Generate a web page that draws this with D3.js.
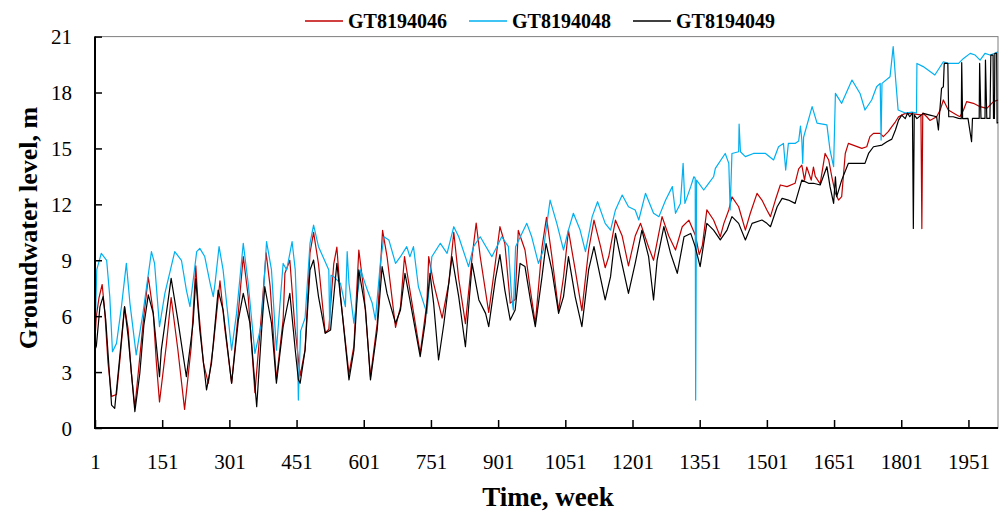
<!DOCTYPE html>
<html>
<head>
<meta charset="utf-8">
<script src="https://cdn.jsdelivr.net/npm/d3@7"></script>
<style>
  body { margin: 0; background: #fff; }
  svg { display: block; }
  text { font-family: "Liberation Serif", "Times New Roman", serif; fill: #000; }
</style>
</head>
<body>
<svg id="chart" width="1000" height="512"></svg>
<script>
// Weekly groundwater levels (m) at three wells, as [week, level] pairs
const seriesNames = ["GT8194046", "GT8194048", "GT8194049"];
const seriesColors = ["#C00000", "#00B0F0", "#000000"];
const xTickWeeks = [1, 151, 301, 451, 601, 751, 901, 1051, 1201, 1351, 1501, 1651, 1801, 1951];
const yTickLevels = [0, 3, 6, 9, 12, 15, 18, 21];
const lastWeek = 2017;

const gt8194046 = [[1,4.8],[4,6.0],[10,7.0],[17,7.7],[23,6.2],[30,3.5],[38,1.7],[49,1.8],[58,4.0],[67,6.5],[75,5.3],[82,3.0],[90,1.1],[101,3.8],[110,6.0],[120,8.1],[131,6.2],[138,3.5],[145,1.4],[160,4.4],[171,7.0],[186,4.2],[201,1.0],[216,4.4],[226,8.7],[231,6.7],[243,3.5],[254,2.4],[265,4.4],[280,7.9],[291,5.3],[306,2.4],[321,6.2],[332,9.2],[343,7.05],[358,1.9],[373,6.2],[383,9.4],[392,7.6],[406,2.6],[421,5.8],[425,8.3],[436,9.0],[447,5.5],[459,2.8],[470,4.2],[481,9.4],[489,10.5],[500,8.8],[515,5.1],[523,5.3],[534,8.8],[541,9.7],[549,7.05],[568,2.9],[579,4.4],[590,9.55],[601,7.4],[616,2.75],[631,5.6],[643,10.6],[653,9.2],[672,5.4],[683,6.5],[692,9.2],[704,7.4],[727,4.0],[742,6.7],[746,9.2],[757,7.76],[776,5.9],[791,7.8],[802,10.5],[813,8.0],[828,5.6],[843,9.2],[852,11.0],[861,9.2],[880,6.2],[895,8.9],[905,10.8],[916,9.9],[928,6.7],[939,6.9],[946,10.6],[961,9.55],[973,7.4],[984,5.6],[999,9.7],[1009,11.3],[1021,9.2],[1036,6.3],[1047,8.1],[1058,10.6],[1073,8.5],[1088,6.3],[1103,9.55],[1115,11.15],[1130,9.7],[1140,8.6],[1148,9.2],[1163,11.15],[1178,10.3],[1192,8.7],[1207,10.3],[1219,10.98],[1237,9.7],[1248,9.0],[1267,11.34],[1282,10.3],[1297,9.55],[1312,10.8],[1327,11.15],[1342,10.3],[1350,9.3],[1357,9.8],[1367,11.7],[1382,11.16],[1397,10.26],[1405,10.98],[1416,11.7],[1423,12.4],[1438,11.87],[1453,10.62],[1464,11.52],[1479,12.59],[1490,12.23],[1501,11.7],[1509,11.34],[1520,12.23],[1531,13.04],[1546,12.95],[1564,13.13],[1572,13.9],[1579,14.1],[1585,13.3],[1590,14.0],[1600,13.3],[1605,14.0],[1609,13.5],[1620,13.1],[1631,14.73],[1639,14.38],[1646,13.48],[1654,12.59],[1661,12.23],[1668,12.41],[1676,14.73],[1683,15.27],[1713,15.0],[1724,15.09],[1731,15.63],[1739,15.81],[1754,15.81],[1761,15.63],[1772,15.9],[1780,16.17],[1788,16.43],[1795,16.7],[1810,16.88],[1828,16.85],[1845,16.8],[1847,10.7],[1849,16.9],[1858,16.7],[1865,16.5],[1880,16.7],[1888,17.06],[1895,17.6],[1906,17.06],[1925,16.79],[1932,16.7],[1940,17.06],[1947,17.51],[1962,17.42],[1977,17.24],[1992,17.15],[2007,17.51],[2017,17.6]];

const gt8194048 = [[1,5.0],[5,8.5],[15,9.37],[27,9.0],[34,7.05],[40,4.09],[49,4.54],[60,6.5],[71,8.83],[79,6.69],[93,3.92],[108,6.15],[127,9.46],[134,8.83],[145,5.44],[157,7.22],[179,9.46],[194,9.0],[205,7.4],[213,6.51],[228,9.46],[235,9.64],[246,9.2],[258,7.76],[265,7.05],[269,7.76],[278,9.73],[287,8.48],[306,4.18],[317,6.15],[332,9.91],[343,7.76],[358,4.0],[373,5.62],[384,10.0],[395,8.48],[406,4.18],[421,8.83],[429,8.48],[441,10.0],[448,8.5],[452,6.0],[455,1.5],[460,5.2],[470,5.9],[481,9.9],[489,10.89],[500,9.73],[523,8.48],[525,5.3],[528,8.2],[534,8.12],[549,7.76],[560,6.51],[564,9.46],[568,7.76],[579,5.62],[594,8.48],[609,7.4],[620,6.69],[627,5.8],[638,8.83],[646,10.26],[657,10.09],[672,8.83],[683,9.19],[697,9.73],[704,9.19],[712,9.73],[723,7.58],[742,6.15],[753,9.19],[772,9.91],[787,9.37],[802,10.8],[813,10.26],[835,8.66],[846,9.73],[861,10.26],[887,9.19],[902,9.91],[909,10.26],[924,9.73],[931,7.05],[935,6.33],[940,9.73],[965,10.98],[976,10.26],[991,8.83],[1002,9.55],[1017,12.23],[1032,10.98],[1047,9.55],[1058,10.62],[1069,11.52],[1084,10.62],[1096,9.46],[1111,11.34],[1123,12.14],[1140,10.98],[1152,10.62],[1163,11.7],[1178,12.5],[1192,11.87],[1207,11.7],[1215,11.16],[1230,12.59],[1248,11.52],[1260,11.34],[1275,12.23],[1290,12.95],[1297,11.52],[1308,12.05],[1314,14.2],[1318,12.05],[1331,12.95],[1338,13.48],[1341,13.4],[1342,1.5],[1344,13.3],[1360,12.77],[1371,13.13],[1382,13.48],[1386,13.93],[1408,14.73],[1416,14.2],[1419,11.7],[1423,14.73],[1438,14.82],[1439,16.3],[1442,14.82],[1453,14.56],[1471,14.73],[1498,14.73],[1516,14.38],[1527,15.09],[1538,15.27],[1543,13.84],[1549,15.27],[1564,15.27],[1572,15.4],[1576,16.2],[1579,15.45],[1581,14.2],[1583,15.6],[1602,17.24],[1613,16.36],[1635,16.26],[1642,14.91],[1650,14.02],[1654,17.95],[1668,17.42],[1691,18.67],[1709,17.95],[1720,17.06],[1735,17.6],[1746,18.31],[1754,18.49],[1756,15.45],[1758,18.49],[1776,18.85],[1783,20.46],[1788,18.85],[1794,17.06],[1810,16.9],[1825,16.95],[1835,16.9],[1836,19.56],[1850,19.39],[1876,18.94],[1895,19.65],[1906,19.56],[1929,19.56],[1940,19.83],[1955,20.1],[1966,20.01],[1977,19.74],[1988,20.1],[1999,20.01],[2010,20.1],[2017,20.19]];

const gt8194049 = [[1,4.2],[4,4.4],[12,6.5],[19,7.05],[25,5.79],[38,1.23],[45,1.05],[55,3.5],[67,6.51],[75,4.9],[90,0.88],[101,2.93],[110,5.5],[120,7.14],[131,6.15],[145,2.75],[149,4.18],[171,8.03],[186,5.79],[205,2.75],[220,5.62],[226,8.0],[235,5.26],[250,2.04],[261,3.47],[276,7.4],[287,6.33],[306,2.4],[321,5.79],[332,7.22],[347,5.62],[362,1.14],[373,5.26],[380,7.58],[395,5.62],[406,2.4],[421,5.44],[436,7.22],[448,4.2],[455,2.6],[459,2.4],[470,4.18],[481,8.48],[489,9.01],[500,7.05],[515,5.08],[527,5.26],[541,8.83],[553,6.15],[568,2.58],[579,4.18],[590,8.48],[605,6.33],[616,2.58],[631,5.26],[642,8.66],[653,7.22],[672,5.62],[683,6.33],[693,8.3],[704,6.87],[727,3.83],[738,5.62],[749,8.3],[757,6.69],[768,3.65],[780,5.62],[798,9.19],[813,7.05],[828,4.36],[843,8.83],[858,6.87],[873,6.15],[880,5.44],[895,8.0],[905,9.3],[916,7.4],[928,5.79],[939,6.33],[950,8.83],[961,8.66],[973,6.87],[984,5.44],[999,8.12],[1008,9.9],[1021,8.48],[1036,6.15],[1047,7.05],[1058,9.19],[1073,7.05],[1088,5.44],[1103,8.48],[1115,9.73],[1129,8.12],[1140,6.87],[1152,8.12],[1163,10.44],[1174,9.19],[1192,7.22],[1207,8.83],[1222,10.62],[1237,9.19],[1248,6.87],[1256,9.01],[1271,10.8],[1286,9.37],[1301,8.3],[1316,10.26],[1331,10.44],[1341,9.73],[1352,8.66],[1367,10.98],[1382,10.62],[1397,10.09],[1412,10.62],[1423,11.34],[1438,10.98],[1453,10.09],[1468,10.98],[1490,11.16],[1501,10.98],[1509,10.8],[1524,11.87],[1535,12.32],[1549,12.23],[1564,12.05],[1579,13.3],[1594,13.13],[1605,13.13],[1620,13.04],[1635,14.02],[1642,12.95],[1650,12.05],[1654,13.48],[1657,12.41],[1668,13.3],[1683,14.2],[1702,14.2],[1720,14.2],[1728,14.73],[1739,15.09],[1758,15.18],[1769,15.36],[1780,15.5],[1788,15.99],[1795,16.52],[1802,16.79],[1810,16.6],[1815,16.9],[1820,16.7],[1826,16.9],[1828,10.71],[1830,16.8],[1836,16.6],[1850,16.88],[1865,16.79],[1880,16.7],[1884,15.99],[1886,16.7],[1891,18.22],[1895,18.31],[1897,19.56],[1905,19.56],[1907,16.7],[1917,16.7],[1929,16.61],[1935,16.6],[1936,19.6],[1938,16.6],[1950,16.61],[1958,15.36],[1960,16.61],[1975,16.61],[1976,19.56],[1979,16.61],[1988,16.61],[1989,19.74],[1992,16.61],[1999,16.61],[2001,20.01],[2006,20.01],[2007,16.61],[2009,16.61],[2010,20.1],[2014,20.1],[2015,16.36],[2017,16.4]];

const seriesData = [gt8194046, gt8194048, gt8194049];

// ---- layout ----
const plot = { left: 95, right: 998, top: 36.6, bottom: 428 };
const svg = d3.select("#chart");

const x = d3.scaleLinear().domain([1, lastWeek]).range([plot.left, plot.right]);
const y = d3.scaleLinear().domain([0, 21]).range([plot.bottom, plot.top]);

// plot frame
svg.append("rect")
  .attr("x", plot.left).attr("y", plot.top)
  .attr("width", plot.right - plot.left).attr("height", plot.bottom - plot.top)
  .attr("fill", "none").attr("stroke", "#7f7f7f").attr("stroke-width", 1);

// series lines, drawn in legend order so the last well sits on top
const line = d3.line().x(d => x(d[0])).y(d => y(d[1]));
const linesG = svg.append("g");
seriesData.forEach((data, i) => {
  linesG.append("path")
    .datum(data)
    .attr("d", line)
    .attr("fill", "none")
    .attr("stroke", seriesColors[i])
    .attr("stroke-width", 1.2)
    .attr("stroke-linejoin", "round");
});

// x axis
const xAxis = svg.append("g")
  .attr("transform", `translate(0,${plot.bottom})`)
  .call(d3.axisBottom(x).tickValues(xTickWeeks).tickSize(-8).tickFormat(d3.format("d")));
xAxis.select(".domain").remove();
xAxis.selectAll(".tick line").attr("stroke", "#000").attr("stroke-width", 1.5);
xAxis.selectAll(".tick text")
  .attr("y", 41).attr("dy", null)
  .style("font-size", "21px").style("font-family", "'Liberation Serif', serif");

// y axis
const yAxis = svg.append("g")
  .attr("transform", `translate(${plot.left},0)`)
  .call(d3.axisLeft(y).tickValues(yTickLevels).tickSize(-7));
yAxis.select(".domain").remove();
yAxis.selectAll(".tick line").attr("stroke", "#000").attr("stroke-width", 1.5);
yAxis.selectAll(".tick text")
  .attr("x", -23).attr("dy", "0.34em")
  .style("font-size", "21px").style("font-family", "'Liberation Serif', serif");

// axis lines
svg.append("line").attr("x1", plot.left).attr("x2", plot.left)
  .attr("y1", plot.top).attr("y2", plot.bottom + 1)
  .attr("stroke", "#000").attr("stroke-width", 2);
svg.append("line").attr("x1", plot.left - 1).attr("x2", plot.right)
  .attr("y1", plot.bottom).attr("y2", plot.bottom)
  .attr("stroke", "#000").attr("stroke-width", 2);

// axis titles
svg.append("text")
  .attr("x", 548).attr("y", 506)
  .attr("text-anchor", "middle")
  .style("font-size", "27px").style("font-weight", "bold")
  .text("Time, week");
svg.append("text")
  .attr("transform", "translate(37,228) rotate(-90)")
  .attr("text-anchor", "middle")
  .style("font-size", "26px").style("font-weight", "bold")
  .text("Groundwater level, m");

// legend
const legendX = [305, 469, 633];
const legend = svg.append("g");
seriesNames.forEach((name, i) => {
  legend.append("line")
    .attr("x1", legendX[i]).attr("x2", legendX[i] + 38)
    .attr("y1", 21).attr("y2", 21)
    .attr("stroke", seriesColors[i]).attr("stroke-width", 1.3);
  legend.append("text")
    .attr("x", legendX[i] + 43).attr("y", 28)
    .style("font-size", "20px").style("font-weight", "bold")
    .text(name);
});
</script>
</body>
</html>
